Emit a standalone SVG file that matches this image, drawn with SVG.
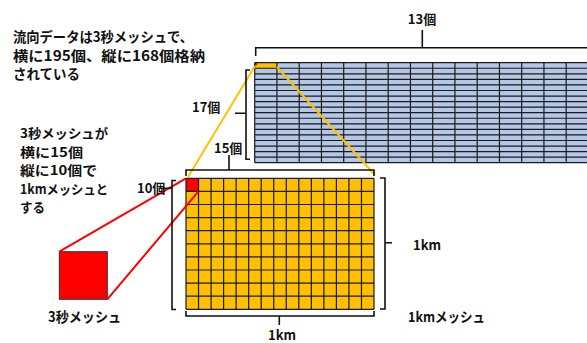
<svg xmlns="http://www.w3.org/2000/svg" width="587" height="343" viewBox="0 0 587 343">
<style>
.t{font-family:"Noto Sans CJK JP","Noto Sans CJK SC",sans-serif;font-weight:bold;font-size:14px;fill:#111}
.u{font-family:"Noto Sans CJK JP","Noto Sans CJK SC",sans-serif;font-weight:bold;font-size:13px;fill:#111}
.s{font-family:"Noto Sans CJK JP","Noto Sans CJK SC",sans-serif;font-weight:bold;font-size:13px;fill:#111}
.br{fill:none;stroke:#111;stroke-width:1.6}
.gl{fill:none;stroke:#1a1a1a;stroke-width:1.2}
</style>
<rect width="587" height="343" fill="#fff"/>
<g id="caption-top">
<text class="t" x="13" y="42" textLength="180" lengthAdjust="spacingAndGlyphs">流向データは3秒メッシュで、</text>
<text class="t" x="13" y="61" textLength="192" lengthAdjust="spacingAndGlyphs">横に195個、縦に168個格納</text>
<text class="t" x="13" y="79" textLength="67" lengthAdjust="spacingAndGlyphs">されている</text>
</g>
<g id="caption-left">
<text class="u" x="20" y="138" textLength="88" lengthAdjust="spacingAndGlyphs">3秒メッシュが</text>
<text class="u" x="20" y="156.5" textLength="63" lengthAdjust="spacingAndGlyphs">横に15個</text>
<text class="u" x="20" y="175" textLength="77" lengthAdjust="spacingAndGlyphs">縦に10個で</text>
<text class="u" x="20" y="193.5" textLength="88" lengthAdjust="spacingAndGlyphs">1kmメッシュと</text>
<text class="u" x="20" y="212" textLength="25" lengthAdjust="spacingAndGlyphs">する</text>
</g>
<g id="blue-grid">
<rect x="254.7" y="62.7" width="334" height="100" fill="#B4C7E7"/>
<rect x="254.7" y="62.7" width="22.25" height="5.56" fill="#FFC000"/>
<rect x="254.7" y="62.7" width="2.5" height="2.5" fill="#FF0000"/>
<path class="gl" d="M254.7,62.7V162.7M276.95,62.7V162.7M299.2,62.7V162.7M321.45,62.7V162.7M343.7,62.7V162.7M365.95,62.7V162.7M388.2,62.7V162.7M410.45,62.7V162.7M432.7,62.7V162.7M454.95,62.7V162.7M477.2,62.7V162.7M499.45,62.7V162.7M521.7,62.7V162.7M543.95,62.7V162.7M566.2,62.7V162.7M588.45,62.7V162.7
M254.7,62.7H590M254.7,68.26H590M254.7,73.81H590M254.7,79.37H590M254.7,84.92H590M254.7,90.48H590M254.7,96.03H590M254.7,101.59H590M254.7,107.14H590M254.7,112.7H590M254.7,118.26H590M254.7,123.81H590M254.7,129.37H590M254.7,134.92H590M254.7,140.48H590M254.7,146.03H590M254.7,151.59H590M254.7,157.14H590M254.7,162.7H590"/>
</g>
<g id="orange-grid">
<rect x="186" y="178.3" width="188" height="131" fill="#FFC000"/>
<rect x="186" y="178.3" width="12.53" height="13.1" fill="#FF0000"/>
<path class="gl" d="M186,178.3V309.3M198.53,178.3V309.3M211.07,178.3V309.3M223.6,178.3V309.3M236.13,178.3V309.3M248.67,178.3V309.3M261.2,178.3V309.3M273.73,178.3V309.3M286.27,178.3V309.3M298.8,178.3V309.3M311.33,178.3V309.3M323.87,178.3V309.3M336.4,178.3V309.3M348.93,178.3V309.3M361.47,178.3V309.3M374,178.3V309.3
M186,178.3H374M186,191.4H374M186,204.5H374M186,217.6H374M186,230.7H374M186,243.8H374M186,256.9H374M186,270H374M186,283.1H374M186,296.2H374M186,309.3H374"/>
</g>
<g id="small-red-square">
<rect x="59.3" y="251.7" width="48" height="47.6" fill="#FF0000" stroke="#333" stroke-width="1"/>
</g>
<g id="connectors">
<path d="M255,66L188,177M276.9,67L375,175" fill="none" stroke="#FFC000" stroke-width="2"/>
<path d="M59.3,251.7L186,178.3M107.3,299.3L198.5,191.4" fill="none" stroke="#FF0000" stroke-width="2"/>
</g>
<g id="braces">
<path class="br" d="M255.7,56V47.7H590M422.3,47.7V30"/>
<path class="br" d="M250,70H246V159.3H250M246,113.3H235"/>
<path class="br" d="M186,176V170H374V176M229,170V155"/>
<path class="br" d="M176,180.5H172V309.5H176M172,188.3H159"/>
<path class="br" d="M380,178H385V309H380M385,242.7H392"/>
<path class="br" d="M186,311V316H374V311M279.3,316V325"/>
</g>
<g id="labels">
<text class="s" x="422" y="23.5" text-anchor="middle">13個</text>
<text class="s" x="192" y="112">17個</text>
<text class="s" x="214" y="153">15個</text>
<text class="s" x="137" y="193">10個</text>
<text class="s" x="413" y="250">1km</text>
<text class="s" x="268" y="340">1km</text>
<text class="t" x="408" y="322" textLength="77" lengthAdjust="spacingAndGlyphs">1kmメッシュ</text>
<text class="t" x="48" y="322" textLength="73" lengthAdjust="spacingAndGlyphs">3秒メッシュ</text>
</g>
</svg>
